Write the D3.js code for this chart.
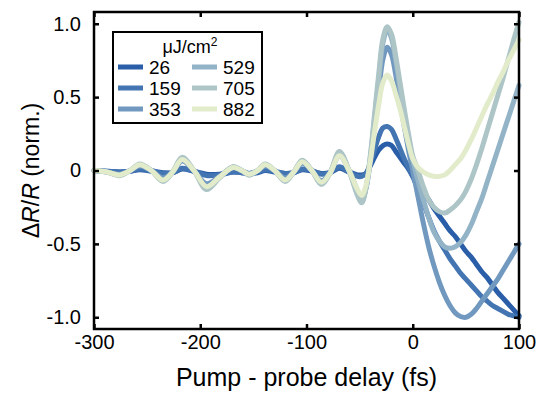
<!DOCTYPE html>
<html>
<head>
<meta charset="utf-8">
<script src="https://cdn.jsdelivr.net/npm/d3@7"></script>
<style>
  body { margin: 0; background: #fff; }
  svg { font-family: "Liberation Sans", Arial, sans-serif; }
</style>
</head>
<body>
<div id="chart"></div>
<script>
// pump-probe delays (fs), shared by all fluences
var delays = [-300, -288, -276, -266, -257, -246, -235, -226, -217, -206, -194, -182, -169, -161, -154, -146,
  -139, -130, -120, -112, -104, -95, -86, -78, -69, -60, -52,
  -48, -44, -40, -36, -32, -28, -24, -20, -16, -12, -8, -4, 0,
  5, 10, 15, 20, 25, 30, 35, 40, 45, 50, 55, 60, 65, 70, 75, 80, 85, 90, 95, 100];

var fluences = ["26", "159", "353", "529", "705", "882"];
var colors = ["#2a5ea8", "#4475b3", "#7199bf", "#93b3c7", "#adc5c6", "#e2ebca"];

var f26 = [0.0, -0.005, -0.01, -0.005, 0.005, -0.005, -0.015, -0.015, 0.01, -0.005, -0.025, -0.025, -0.01, -0.015, -0.02, -0.015,
  0.0, -0.01, -0.02, -0.015, 0.005, -0.005, -0.02, -0.015, 0.015, -0.01, -0.03,
  -0.03, -0.02, 0.03, 0.09, 0.14, 0.17, 0.18, 0.17, 0.13, 0.09, 0.05, 0.01, -0.04,
  -0.09, -0.15, -0.2, -0.26, -0.31, -0.36, -0.41, -0.45, -0.5, -0.55, -0.59, -0.64, -0.69, -0.73, -0.78, -0.83, -0.87, -0.91, -0.95, -0.99];

var f159 = [0.0, -0.005, -0.01, -0.005, 0.01, 0.0, -0.02, -0.015, 0.015, -0.005, -0.035, -0.03, -0.01, -0.015, -0.02, -0.01,
  0.005, -0.005, -0.02, -0.015, 0.01, 0.0, -0.025, -0.015, 0.025, -0.01, -0.04,
  -0.04, -0.02, 0.05, 0.14, 0.23, 0.29, 0.30, 0.28, 0.22, 0.15, 0.08, 0.02, -0.04,
  -0.13, -0.22, -0.32, -0.41, -0.48, -0.54, -0.6, -0.65, -0.7, -0.74, -0.78, -0.82, -0.86, -0.89, -0.92, -0.94, -0.96, -0.98, -0.99, -1.0];

var f353 = [0.0, -0.01, -0.025, 0.0, 0.03, 0.0, -0.05, -0.01, 0.065, 0.0, -0.09, -0.04, 0.02, 0.0, -0.02, 0.0,
  0.03, 0.0, -0.05, -0.01, 0.05, 0.0, -0.07, -0.015, 0.1, 0.0, -0.14,
  -0.2, -0.12, 0.06, 0.3, 0.54, 0.76, 0.84, 0.79, 0.65, 0.47, 0.3, 0.14, 0.0,
  -0.18, -0.36, -0.52, -0.65, -0.76, -0.85, -0.92, -0.97, -0.995, -1.0, -0.98, -0.94, -0.89, -0.84, -0.79, -0.74, -0.68, -0.62, -0.56, -0.5];

var f529 = [0.0, -0.01, -0.03, 0.0, 0.04, 0.0, -0.07, -0.01, 0.085, 0.0, -0.12, -0.05, 0.025, 0.0, -0.03, 0.0,
  0.04, 0.0, -0.07, -0.01, 0.065, 0.0, -0.09, -0.02, 0.12, 0.0, -0.16,
  -0.21, -0.12, 0.08, 0.35, 0.62, 0.87, 0.96, 0.9, 0.75, 0.56, 0.38, 0.21, 0.07,
  -0.07, -0.2, -0.32, -0.42, -0.48, -0.52, -0.53, -0.52, -0.49, -0.44, -0.37, -0.28, -0.19, -0.08, 0.03, 0.14, 0.25, 0.36, 0.47, 0.58];

var f705 = [0.0, -0.01, -0.035, 0.0, 0.045, 0.0, -0.075, -0.01, 0.09, 0.0, -0.13, -0.05, 0.025, 0.0, -0.03, 0.0,
  0.045, 0.0, -0.075, -0.01, 0.07, 0.0, -0.095, -0.02, 0.13, 0.0, -0.17,
  -0.22, -0.12, 0.1, 0.38, 0.66, 0.9, 0.98, 0.93, 0.78, 0.6, 0.42, 0.25, 0.1,
  0.0, -0.11, -0.2, -0.25, -0.28, -0.29, -0.27, -0.24, -0.2, -0.14, -0.06, 0.04, 0.15, 0.27, 0.39, 0.51, 0.63, 0.76, 0.89, 1.01];

var f882 = [0.0, -0.01, -0.03, 0.0, 0.04, 0.0, -0.065, -0.01, 0.075, 0.0, -0.11, -0.045, 0.02, 0.0, -0.025, 0.0,
  0.04, 0.0, -0.065, -0.01, 0.06, 0.0, -0.08, -0.02, 0.1, 0.0, -0.13,
  -0.17, -0.1, 0.06, 0.26, 0.45, 0.6, 0.65, 0.61, 0.52, 0.42, 0.3, 0.18, 0.08,
  0.02, -0.01, -0.03, -0.04, -0.04, -0.03, 0.0, 0.04, 0.08, 0.14, 0.21, 0.29, 0.37, 0.45, 0.52, 0.6, 0.67, 0.75, 0.82, 0.89];

var xTicks = [-300, -200, -100, 0, 100];
var xTickLabels = ["-300", "-200", "-100", "0", "100"];
var yTicks = [-1, -0.5, 0, 0.5, 1];
var yTickLabels = ["-1.0", "-0.5", "0", "0.5", "1.0"];

var series = [f26, f159, f353, f529, f705, f882].map(function(vals, i) {
  return {
    name: fluences[i],
    color: colors[i],
    points: vals.map(function(v, j) { return [delays[j], v]; })
  };
});

var width = 539, height = 394;
var plot = { left: 94, right: 519, top: 12, bottom: 329 };

var svg = d3.select("#chart").append("svg")
    .attr("width", width)
    .attr("height", height);

var x = d3.scaleLinear()
    .domain([-300, 100])
    .range([plot.left, plot.right]);

var y = d3.scaleLinear()
    .domain([-1.08, 1.08])
    .range([plot.bottom, plot.top]);

var line = d3.line()
    .x(function(d) { return x(d[0]); })
    .y(function(d) { return y(d[1]); })
    .curve(d3.curveCatmullRom.alpha(0.5));

// Curves
svg.append("g")
    .attr("class", "curves")
  .selectAll("path")
    .data(series)
  .enter().append("path")
    .attr("d", function(d) { return line(d.points); })
    .style("fill", "none")
    .style("stroke", function(d) { return d.color; })
    .style("stroke-width", 5)
    .style("stroke-linecap", "round")
    .style("stroke-linejoin", "round");

// Axes with inward ticks on all four sides
var tickLen = 5;
var axisStyle = function(g) {
  g.select(".domain").remove();
  g.selectAll(".tick line").style("stroke", "#000").style("stroke-width", 2.5);
  g.selectAll("text").style("font-size", "20px").style("fill", "#000")
      .attr("font-family", "Liberation Sans, Arial, sans-serif");
};

svg.append("g")
    .attr("transform", "translate(0," + plot.bottom + ")")
    .call(d3.axisBottom(x).tickValues(xTicks).tickSize(-tickLen).tickPadding(6)
      .tickFormat(function(d, i) { return xTickLabels[i]; }))
    .call(axisStyle);

svg.append("g")
    .attr("transform", "translate(0," + plot.top + ")")
    .call(d3.axisTop(x).tickValues(xTicks).tickSize(-tickLen).tickFormat(""))
    .call(axisStyle);

svg.append("g")
    .attr("transform", "translate(" + plot.left + ",0)")
    .call(d3.axisLeft(y).tickValues(yTicks).tickSize(-tickLen).tickPadding(13)
      .tickFormat(function(d, i) { return yTickLabels[i]; }))
    .call(axisStyle);

svg.append("g")
    .attr("transform", "translate(" + plot.right + ",0)")
    .call(d3.axisRight(y).tickValues(yTicks).tickSize(-tickLen).tickFormat(""))
    .call(axisStyle);

// Frame
svg.append("rect")
    .attr("x", plot.left)
    .attr("y", plot.top)
    .attr("width", plot.right - plot.left)
    .attr("height", plot.bottom - plot.top)
    .style("fill", "none")
    .style("stroke", "#000")
    .style("stroke-width", 2.5);

// Axis titles
svg.append("text")
    .attr("x", (plot.left + plot.right) / 2)
    .attr("y", 386)
    .attr("text-anchor", "middle")
    .style("font-size", "25px")
    .text("Pump - probe delay (fs)");

var yTitle = svg.append("text")
    .attr("transform", "translate(39," + ((plot.top + plot.bottom) / 2) + ") rotate(-90)")
    .attr("text-anchor", "middle")
    .style("font-size", "23px");
yTitle.append("tspan").text("\u0394");
yTitle.append("tspan").style("font-style", "italic").text("R");
yTitle.append("tspan").text("/");
yTitle.append("tspan").style("font-style", "italic").text("R");
yTitle.append("tspan").text(" (norm.)");

// Legend
var legend = svg.append("g")
    .attr("class", "legend");

legend.append("rect")
    .attr("x", 113)
    .attr("y", 32)
    .attr("width", 149)
    .attr("height", 91)
    .style("fill", "#fff")
    .style("stroke", "#000")
    .style("stroke-width", 2);

var legendTitle = legend.append("text")
    .attr("x", 190)
    .attr("y", 53)
    .attr("text-anchor", "middle")
    .style("font-size", "18px");
legendTitle.append("tspan").text("\u03bcJ/cm");
legendTitle.append("tspan").attr("dy", -7).style("font-size", "12px").text("2");

var item = legend.selectAll(".item")
    .data(series)
  .enter().append("g")
    .attr("class", "item")
    .attr("transform", function(d, i) {
      var col = Math.floor(i / 3), row = i % 3;
      return "translate(" + (118 + col * 74) + "," + (67 + row * 21) + ")";
    });

item.append("line")
    .attr("x1", 0)
    .attr("x2", 25)
    .style("stroke", function(d) { return d.color; })
    .style("stroke-width", 5);

item.append("text")
    .attr("x", 31)
    .attr("dy", "0.35em")
    .style("font-size", "19px")
    .text(function(d) { return d.name; });
</script>
</body>
</html>
